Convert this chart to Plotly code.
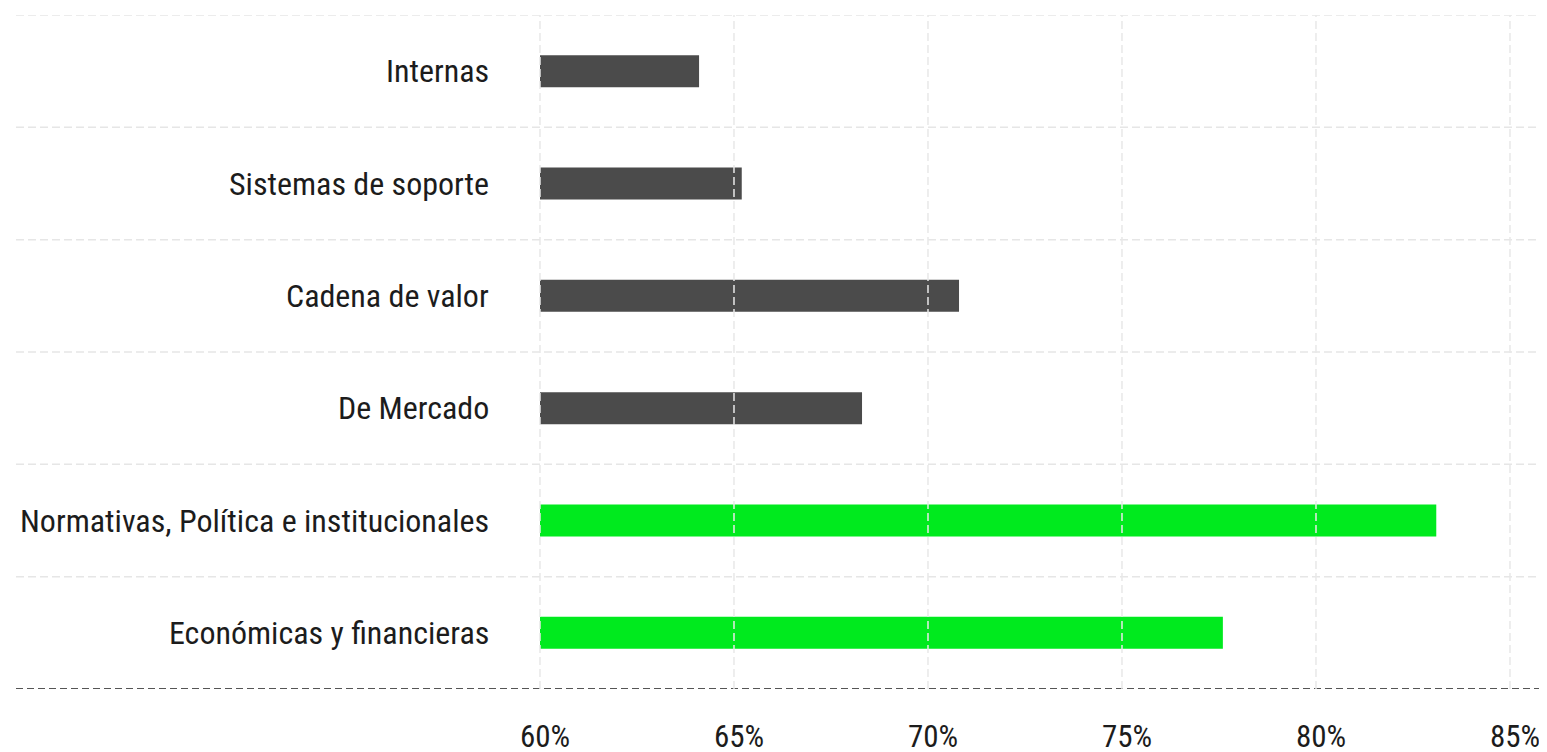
import plotly.graph_objects as go

categories = ["Económicas y financieras", "Normativas, Política e institucionales", "De Mercado",
              "Cadena de valor", "Sistemas de soporte", "Internas"]
values = [77.6, 83.1, 68.3, 70.8, 65.2, 64.1]
colors = ["#00EA1E", "#00EA1E", "#4B4B4B", "#4B4B4B", "#4B4B4B", "#4B4B4B"]
tick_vals = [60, 65, 70, 75, 80, 85]
tick_text = ["60%", "65%", "70%", "75%", "80%", "85%"]
base_value = 60

FONT = "Roboto Condensed, Roboto, sans-serif"
pos = list(range(len(categories)))

fig = go.Figure()
fig.add_trace(go.Bar(
    y=pos, x=[v - base_value for v in values], base=base_value, orientation="h",
    marker=dict(color=colors, line=dict(width=0)), width=0.285, hoverinfo="skip",
))

for p, c in zip(pos, categories):
    fig.add_annotation(x=58.75, y=p, xref="x", yref="y", text=c, showarrow=False,
                       xanchor="right", yanchor="middle", font=dict(family=FONT, size=32, color="#1c1c1c"))

# horizontal separators
for yv in [p + 0.5 for p in pos]:
    fig.add_shape(type="line", xref="paper", yref="y", x0=0, x1=1, y0=yv, y1=yv,
                  line=dict(color="#e6e6e6", width=1.5, dash="8px,4px"), layer="below")
# bottom dashed axis line
fig.add_shape(type="line", xref="paper", yref="y", x0=0, x1=1, y0=-0.5, y1=-0.5,
              line=dict(color="#555555", width=2, dash="7px,4px"), layer="above")
# vertical grid lines drawn above bars
for xv in tick_vals:
    fig.add_shape(type="line", xref="x", yref="y", x0=xv, x1=xv, y0=-0.5, y1=5.5,
                  line=dict(color="#e8e8e8", width=1.5, dash="8px,4px"), layer="above")

fig.update_layout(
    width=1547, height=752,
    margin=dict(l=8, r=0, t=7, b=71, autoexpand=False),
    plot_bgcolor="white", paper_bgcolor="white",
    showlegend=False,
    xaxis=dict(range=[46.495, 86.16], tickvals=tick_vals, ticktext=tick_text, showgrid=False,
               zeroline=False, showline=False, ticks="", ticklabelstandoff=26, ticklabelshift=5,
               automargin=False, tickfont=dict(family=FONT, size=31, color="#1c1c1c")),
    yaxis=dict(range=[-0.5, 5.5], showgrid=False, zeroline=False, showticklabels=False, ticks="",
               automargin=False),
)
fig.write_html("out.html")
